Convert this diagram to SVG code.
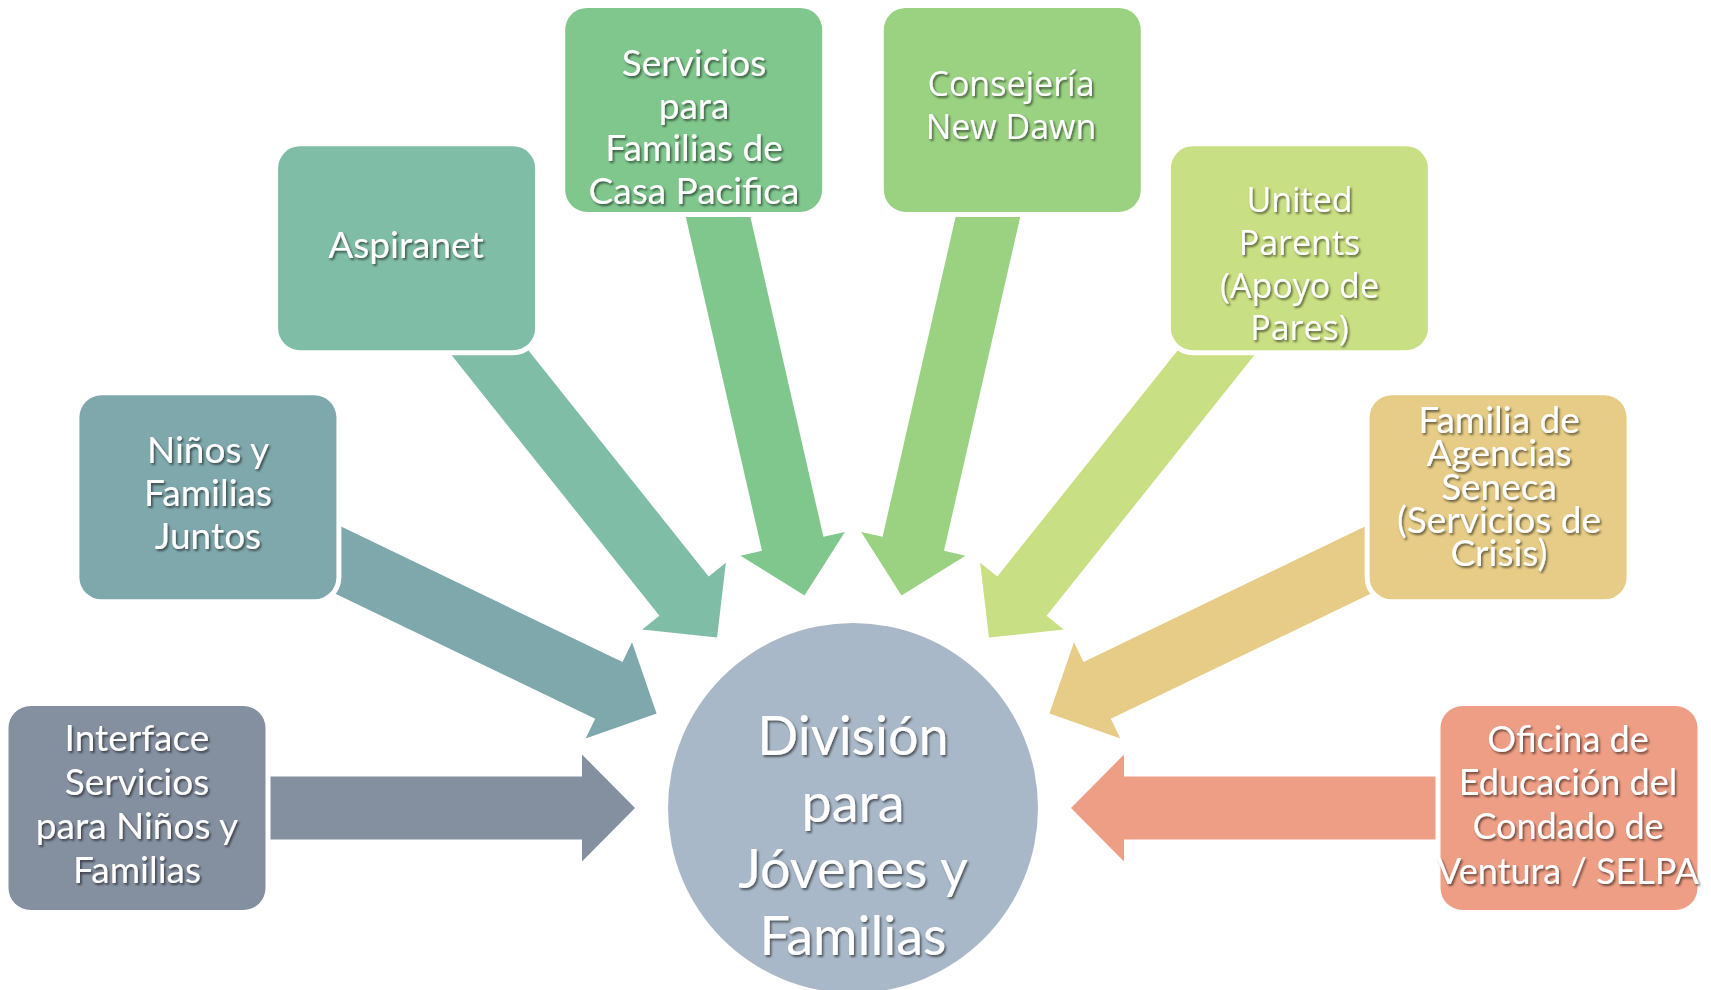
<svg xmlns="http://www.w3.org/2000/svg" xmlns:xlink="http://www.w3.org/1999/xlink" width="1711" height="990" viewBox="0 0 1711 990">
<style>
.lbl{font-family:Lato,"Liberation Sans",sans-serif;font-size:37px;fill:#fff;text-anchor:middle;filter:url(#ts)}
.lbl2{font-family:"Open Sans","Noto Sans",sans-serif;font-size:34px;fill:#fff;text-anchor:middle;filter:url(#ts)}
.big{font-family:Lato,"Liberation Sans",sans-serif;font-size:54px;fill:#fff;text-anchor:middle;filter:url(#ts)}
.halo{fill:#fff}
</style>
<defs>
<filter id="ts" x="-10%" y="-20%" width="125%" height="150%">
<feDropShadow dx="1.6" dy="2" stdDeviation="1.3" flood-color="#000" flood-opacity="0.55"/>
</filter>
<path id="arr" d="M-640,-31.5 L-271,-31.5 L-271,-53.5 L-218,0 L-271,53.5 L-271,31.5 L-640,31.5 Z"/>
</defs>
<rect width="1711" height="990" fill="#fff"/>
<g id="connectors">
<use xlink:href="#arr" transform="translate(853,808) rotate(0)" fill="#848FA0"/>
<use xlink:href="#arr" transform="translate(853,808) rotate(25.714)" fill="#7FA8AC"/>
<use xlink:href="#arr" transform="translate(853,808) rotate(51.429)" fill="#80BDA6"/>
<use xlink:href="#arr" transform="translate(853,808) rotate(77.143)" fill="#80C78D"/>
<use xlink:href="#arr" transform="translate(853,808) rotate(102.857)" fill="#9AD282"/>
<use xlink:href="#arr" transform="translate(853,808) rotate(128.571)" fill="#C9DF83"/>
<use xlink:href="#arr" transform="translate(853,808) rotate(154.286)" fill="#E6CC86"/>
<use xlink:href="#arr" transform="translate(853,808) rotate(180)" fill="#EE9E85"/>
</g>
<g id="center">
<circle cx="853" cy="808" r="185" fill="#A9B8C8"/>
<text class="big" x="853"><tspan x="853" y="755">División</tspan><tspan x="853" y="822">para</tspan><tspan x="853" y="888">Jóvenes y</tspan><tspan x="853" y="955">Familias</tspan></text>
</g>
<g id="n-interface">
<rect class="halo" x="3.5" y="701" width="267" height="214" rx="27"/>
<rect x="8.5" y="706" width="257" height="204" rx="22" fill="#848FA0"/>
<text class="lbl"><tspan x="137" y="751">Interface</tspan><tspan x="137" y="795">Servicios</tspan><tspan x="137" y="839">para Niños y</tspan><tspan x="137" y="883">Familias</tspan></text>
</g>
<g id="n-ninos">
<rect class="halo" x="74.4" y="390.3" width="267" height="214" rx="27"/>
<rect x="79.4" y="395.3" width="257" height="204" rx="22" fill="#7FA8AC"/>
<text class="lbl"><tspan x="208" y="463">Niños y</tspan><tspan x="208" y="506">Familias</tspan><tspan x="208" y="549">Juntos</tspan></text>
</g>
<g id="n-aspiranet">
<rect class="halo" x="273.1" y="141.2" width="267" height="214" rx="27"/>
<rect x="278.1" y="146.2" width="257" height="204" rx="22" fill="#80BDA6"/>
<text class="lbl"><tspan x="406" y="258">Aspiranet</tspan></text>
</g>
<g id="n-casa">
<rect class="halo" x="560.2" y="2.9" width="267" height="214" rx="27"/>
<rect x="565.2" y="7.9" width="257" height="204" rx="22" fill="#80C78D"/>
<text class="lbl"><tspan x="694" y="76">Servicios</tspan><tspan x="694" y="118.5">para</tspan><tspan x="694" y="161">Familias de</tspan><tspan x="694" y="203.5">Casa Pacifica</tspan></text>
</g>
<g id="n-consejeria">
<rect class="halo" x="878.8" y="2.9" width="267" height="214" rx="27"/>
<rect x="883.8" y="7.9" width="257" height="204" rx="22" fill="#9AD282"/>
<text class="lbl2"><tspan x="1011" y="96">Consejería</tspan><tspan x="1011" y="138.5">New Dawn</tspan></text>
</g>
<g id="n-united">
<rect class="halo" x="1165.9" y="141.2" width="267" height="214" rx="27"/>
<rect x="1170.9" y="146.2" width="257" height="204" rx="22" fill="#C9DF83"/>
<text class="lbl2"><tspan x="1299.5" y="212">United</tspan><tspan x="1299.5" y="254.5">Parents</tspan><tspan x="1299.5" y="297.5">(Apoyo de</tspan><tspan x="1299.5" y="339.5">Pares)</tspan></text>
</g>
<g id="n-seneca">
<rect class="halo" x="1364.6" y="390.3" width="267" height="214" rx="27"/>
<rect x="1369.6" y="395.3" width="257" height="204" rx="22" fill="#E6CC86"/>
<text class="lbl"><tspan x="1499" y="433">Familia de</tspan><tspan x="1499" y="466">Agencias</tspan><tspan x="1499" y="500">Seneca</tspan><tspan x="1499" y="533">(Servicios de</tspan><tspan x="1499" y="566">Crisis)</tspan></text>
</g>
<g id="n-oficina">
<rect class="halo" x="1435.5" y="701" width="267" height="214" rx="27"/>
<rect x="1440.5" y="706" width="257" height="204" rx="22" fill="#EE9E85"/>
<text class="lbl" style="font-size:36px"><tspan x="1568" y="752">Oficina de</tspan><tspan x="1568" y="795">Educación del</tspan><tspan x="1568" y="839">Condado de</tspan><tspan x="1568" y="884">Ventura / SELPA</tspan></text>
</g>
</svg>
